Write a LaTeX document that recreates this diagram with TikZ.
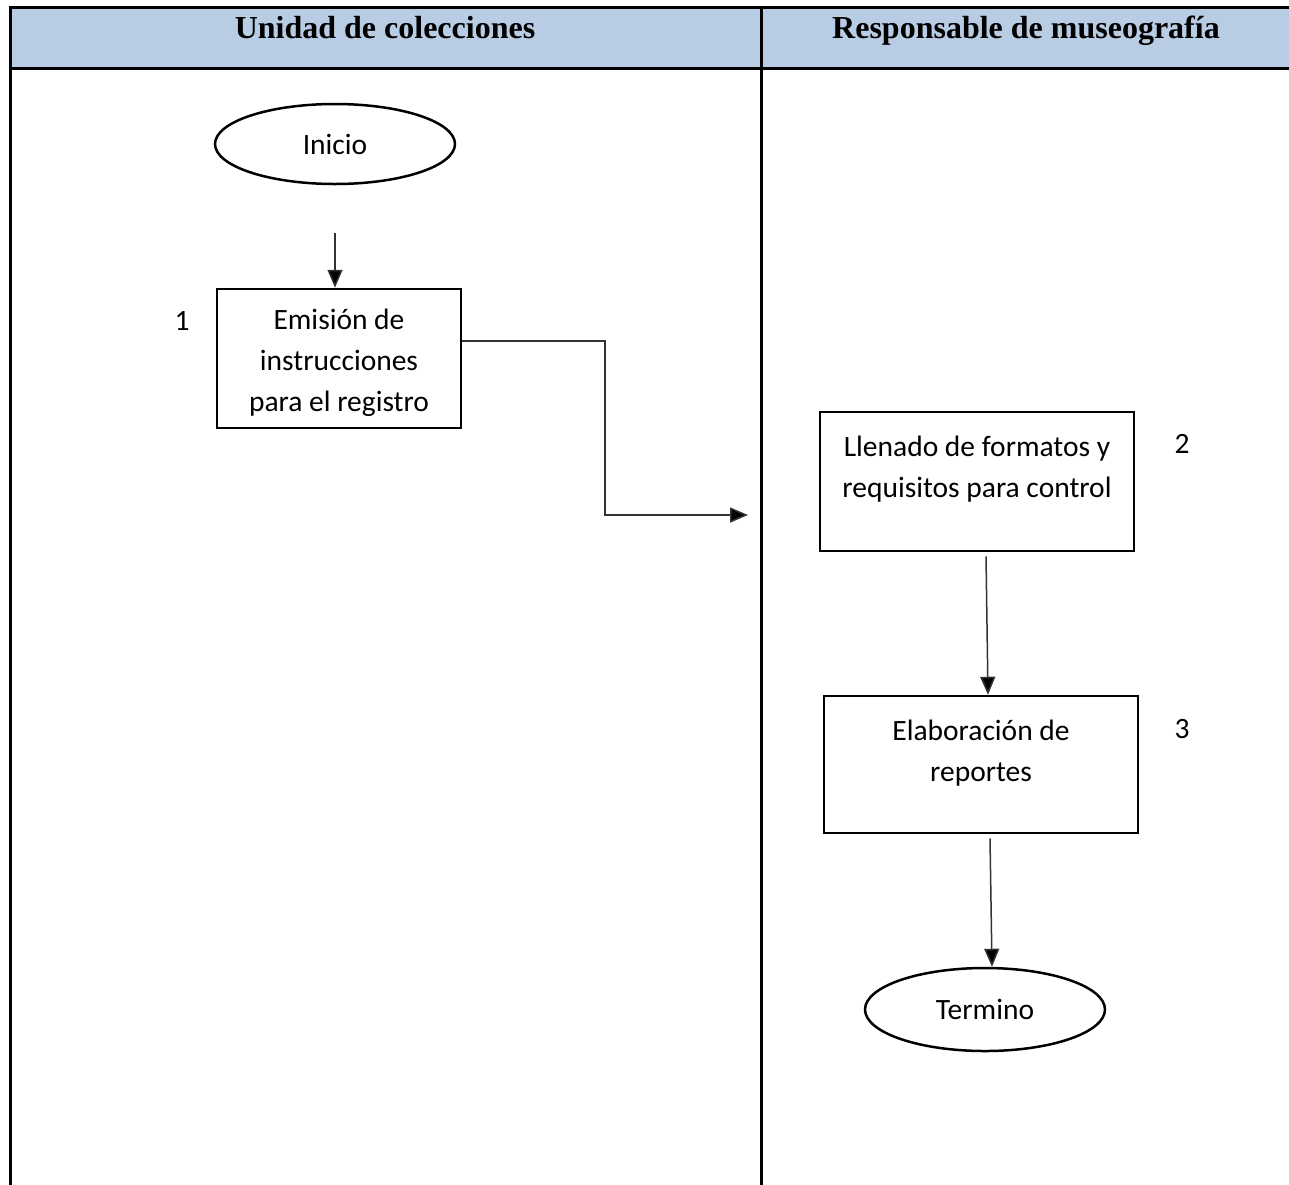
\documentclass[tikz,border=0pt]{standalone}
\usepackage{fontspec}
\setmainfont{Liberation Serif}
\newfontfamily\bodyfont{Carlito}
\usetikzlibrary{shapes.geometric,arrows.meta,calc}
\definecolor{headblue}{HTML}{B8CCE4}
\begin{document}
\begin{tikzpicture}[x=1pt,y=-1pt,
  lane/.style={line width=3pt,line cap=rect},
  headtext/.style={font=\fontsize{32}{38}\selectfont\bfseries,anchor=base},
  body/.style={font=\bodyfont\fontsize{29.5}{41}\selectfont,align=center},
  procbox/.style={draw,line width=2.5pt,rectangle,inner sep=0pt},
  term/.style={draw,line width=2.5pt,ellipse,inner sep=0pt,body},
  flow/.style={line width=1.5pt,draw=black!80,-{Triangle[length=18pt,width=15pt,fill=black]}},
  stepnum/.style={body}]
\useasboundingbox (0,0) rectangle (1289,1184);
% header band and lane lines
\fill[headblue] (10,7) rectangle (1289,68);
\draw[lane] (1289,7) -- (10,7) -- (10,1184);
\draw[lane] (10,68) -- (1289,68);
\draw[lane] (761,7) -- (761,1184);
\node[headtext] (h1) at (385,38) {Unidad de colecciones};
\node[headtext] (h2) at (1026,38) {Responsable de museografía};
% flow elements
\node[term,minimum width=240pt,minimum height=80pt] (ini) at (335,144) {Inicio};
\node[procbox,minimum width=244pt,minimum height=139pt] (b1) at (339,358.5) {};
\node[body] (t1) at (339,363) {Emisión de\\instrucciones\\para el registro};
\node[procbox,minimum width=314pt,minimum height=139pt] (b2) at (977,481.5) {};
\node[body] (t2) at (977,469.5) {Llenado de formatos y\\requisitos para control};
\node[procbox,minimum width=314pt,minimum height=137pt] (b3) at (981,764.5) {};
\node[body] (t3) at (981,753) {Elaboración de\\reportes};
\node[term,minimum width=240pt,minimum height=83pt] (fin) at (985,1009.5) {Termino};
% step numbers
\node[stepnum] (n1) at (182,321) {1};
\node[stepnum] (n2) at (1182,444) {2};
\node[stepnum] (n3) at (1182,729) {3};
% connectors
\coordinate (k1) at (605,341);
\coordinate (tip) at (748,515);
\draw[flow] (335,233) -- (ini.south |- b1.north);
\draw[flow] (b1.east |- k1) -- (k1) |- (tip);
\draw[flow] ($(b2.south)+(9,4)$) -- ($(b3.north)+(7,0)$);
\draw[flow] ($(b3.south)+(9,4)$) -- ($(fin.north)+(7,0)$);
\end{tikzpicture}
\end{document}
